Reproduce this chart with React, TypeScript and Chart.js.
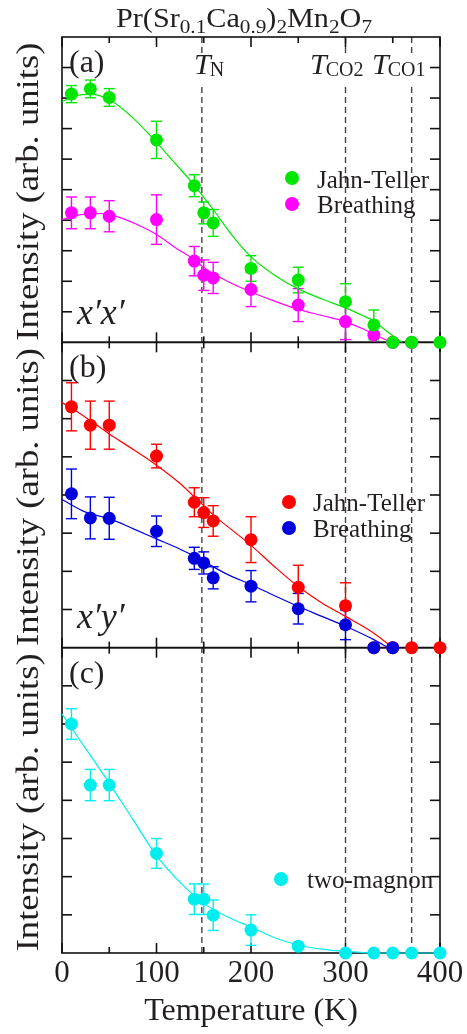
import React, { useEffect, useRef } from 'react';
import { Chart, registerables } from 'chart.js';
Chart.register(...registerables);

// ---------- data ----------
const transitionTemps = [148, 300, 370];
const xMinorTicks = [50, 150, 250, 350];

// panel (a) x'x'
const jtATemps = [10, 30, 50, 100, 140, 150, 160, 200, 250, 300, 330, 350, 370, 400];
const jtA = [8.13, 8.3, 8.02, 6.63, 5.13, 4.24, 3.91, 2.42, 2.04, 1.33, 0.57, 0, 0, 0];
const jtAErr = [0.28, 0.29, 0.29, 0.61, 0.36, 0.36, 0.44, 0.42, 0.42, 0.59, 0.49, 0, 0, 0];
const brATemps = [10, 30, 50, 100, 140, 150, 160, 200, 250, 300, 330, 350, 370];
const brA = [4.24, 4.24, 4.13, 4.02, 2.66, 2.2, 2.11, 1.73, 1.22, 0.68, 0.24, 0, 0];
const brAErr = [0.52, 0.52, 0.51, 0.81, 0.48, 0.5, 0.51, 0.56, 0.54, 0.59, 0.1, 0, 0];
const jtAFitTemps = [0, 15, 30, 50, 75, 100, 120, 140, 150, 160, 180, 200, 225, 250, 275, 300, 320, 330, 345, 360];
const jtAFit = [7.88, 8.08, 8.12, 7.95, 7.35, 6.55, 5.85, 5.15, 4.75, 4.35, 3.5, 2.8, 2.2, 1.75, 1.42, 1.13, 0.85, 0.7, 0.33, 0];
const brAFitTemps = [0, 20, 40, 60, 80, 100, 120, 140, 150, 175, 200, 225, 250, 275, 300, 320, 330, 345, 350];
const brAFit = [4.02, 4.18, 4.22, 4.1, 3.85, 3.53, 3.1, 2.71, 2.45, 2.0, 1.65, 1.35, 1.08, 0.88, 0.68, 0.42, 0.27, 0.05, 0];

// panel (b) x'y'
const jtBTemps = [10, 30, 50, 100, 140, 150, 160, 200, 250, 300, 330, 350, 370, 400];
const jtB = [6.31, 5.83, 5.83, 5.02, 3.81, 3.54, 3.32, 2.83, 1.58, 1.1, 0, 0, 0, 0];
const jtBErr = [0.63, 0.63, 0.63, 0.31, 0.38, 0.39, 0.4, 0.6, 0.58, 0.6, 0, 0, 0, 0];
const brBTemps = [10, 30, 50, 100, 140, 150, 160, 200, 250, 300, 330, 350];
const brB = [4.03, 3.4, 3.39, 3.05, 2.34, 2.22, 1.83, 1.61, 1.02, 0.6, 0, 0];
const brBErr = [0.65, 0.55, 0.55, 0.4, 0.29, 0.29, 0.29, 0.41, 0.4, 0.39, 0, 0];
const jtBFitTemps = [0, 10, 30, 50, 75, 100, 125, 140, 150, 160, 180, 200, 225, 250, 275, 300, 330, 350];
const jtBFit = [6.42, 6.28, 5.95, 5.6, 5.2, 4.78, 4.3, 3.95, 3.72, 3.48, 3.08, 2.68, 2.12, 1.6, 1.17, 0.82, 0.38, 0];
const brBFitTemps = [0, 25, 50, 75, 100, 125, 140, 150, 175, 200, 225, 250, 275, 300, 330, 345];
const brBFit = [3.88, 3.55, 3.38, 3.12, 2.85, 2.58, 2.4, 2.26, 1.92, 1.65, 1.36, 1.08, 0.82, 0.56, 0.21, 0];

// panel (c) two-magnon
const tmCTemps = [10, 30, 50, 100, 140, 150, 160, 200, 250, 300, 330, 350, 370, 400];
const tmC = [6.0, 4.4, 4.4, 2.61, 1.41, 1.41, 0.99, 0.6, 0.18, 0, 0, 0, 0, 0];
const tmCErr = [0.4, 0.41, 0.41, 0.39, 0.4, 0.4, 0.4, 0.4, 0, 0, 0, 0, 0, 0];
const tmCFitTemps = [0, 10, 30, 50, 75, 100, 125, 150, 175, 200, 225, 250, 275, 300, 330, 400];
const tmCFit = [6.26, 5.9, 5.18, 4.45, 3.5, 2.55, 1.85, 1.3, 0.95, 0.68, 0.4, 0.21, 0.1, 0.04, 0, 0];

// ---------- style ----------
const GREEN = '#00e600';
const MAGENTA = '#ff00ff';
const RED = '#ff0000';
const BLUE = '#0000dd';
const CYAN = '#00eeee';
const INK = '#231f20';
const FONT = "'Liberation Serif', 'Times New Roman', serif";

const pts = (xs: number[], ys: number[]) => xs.map((x, i) => ({ x, y: ys[i] }));

function pointSet(label: string, xs: number[], ys: number[], errs: number[], color: string, axis: string, order: number) {
  return {
    label,
    data: pts(xs, ys),
    errors: errs,
    yAxisID: axis,
    backgroundColor: color,
    borderColor: color,
    pointRadius: 6.5,
    pointBorderWidth: 0,
    showLine: false,
    clip: false,
    order,
  };
}
function fitSet(xs: number[], ys: number[], color: string, axis: string) {
  return {
    label: 'fit',
    data: pts(xs, ys),
    yAxisID: axis,
    borderColor: color,
    backgroundColor: color,
    borderWidth: 1.2,
    pointRadius: 0,
    showLine: true,
    cubicInterpolationMode: 'monotone',
    clip: false,
    order: 10,
  };
}

function seg(ctx: CanvasRenderingContext2D, x1: number, y1: number, x2: number, y2: number) {
  ctx.beginPath();
  ctx.moveTo(x1, y1);
  ctx.lineTo(x2, y2);
  ctx.stroke();
}

const decor = {
  id: 'decor',
  beforeDatasetsDraw(chart: any) {
    const { ctx, chartArea: ca, scales } = chart;
    const xs = scales.x;
    ctx.save();
    // dashed transition lines
    ctx.strokeStyle = '#444';
    ctx.lineWidth = 1.4;
    ctx.setLineDash([6, 4]);
    for (const t of transitionTemps) {
      const px = xs.getPixelForValue(t);
      seg(ctx, px, ca.top, px, ca.bottom);
    }
    ctx.setLineDash([]);
    // frames and ticks
    ctx.strokeStyle = '#111';
    ctx.lineWidth = 1.6;
    for (const id of ['ya', 'yb', 'yc']) {
      const s = scales[id];
      ctx.strokeRect(ca.left, s.top, ca.right - ca.left, s.bottom - s.top);
      for (const tk of s.ticks) {
        const py = s.getPixelForValue(tk.value);
        if (py <= s.top + 1 || py >= s.bottom - 1) continue;
        seg(ctx, ca.left, py, ca.left + 10, py);
        seg(ctx, ca.right - 10, py, ca.right, py);
      }
      for (const tk of xs.ticks) {
        const px = xs.getPixelForValue(tk.value);
        seg(ctx, px, s.top, px, s.top + 10);
        seg(ctx, px, s.bottom - 10, px, s.bottom);
      }
      for (const m of xMinorTicks) {
        const px = xs.getPixelForValue(m);
        seg(ctx, px, s.top, px, s.top + 6);
        seg(ctx, px, s.bottom - 6, px, s.bottom);
      }
    }
    // error bars
    chart.data.datasets.forEach((ds: any, i: number) => {
      if (!ds.errors) return;
      const meta = chart.getDatasetMeta(i);
      const ys = scales[ds.yAxisID];
      ctx.strokeStyle = ds.backgroundColor;
      ctx.lineWidth = 1.4;
      meta.data.forEach((pt: any, j: number) => {
        const e = ds.errors[j];
        if (!e) return;
        const v = ds.data[j].y;
        const y1 = ys.getPixelForValue(v + e);
        const y2 = ys.getPixelForValue(v - e);
        seg(ctx, pt.x, y1, pt.x, y2);
        seg(ctx, pt.x - 5.5, y1, pt.x + 5.5, y1);
        seg(ctx, pt.x - 5.5, y2, pt.x + 5.5, y2);
      });
    });
    ctx.restore();
  },
  afterDraw(chart: any) {
    const { ctx, scales } = chart;
    ctx.save();
    ctx.fillStyle = INK;
    ctx.textBaseline = 'alphabetic';
    ctx.textAlign = 'left';

    // title with subscripts
    const parts: [string, boolean][] = [
      ['Pr(Sr', false], ['0.1', true], ['Ca', false], ['0.9', true], [')', false],
      ['2', true], ['Mn', false], ['2', true], ['O', false], ['7', true],
    ];
    const mainF = `27px ${FONT}`;
    const subF = `19px ${FONT}`;
    let w = 0;
    for (const [t, s] of parts) { ctx.font = s ? subF : mainF; w += ctx.measureText(t).width; }
    const targetW = 256;
    ctx.save();
    ctx.translate(244, 27);
    ctx.scale(targetW / w, 1);
    let cx = -w / 2;
    for (const [t, s] of parts) {
      ctx.font = s ? subF : mainF;
      ctx.fillText(t, cx, s ? 6 : 0);
      cx += ctx.measureText(t).width;
    }
    ctx.restore();

    // transition labels with white background
    const tl = [
      { x: 194, sub: 'N' },
      { x: 310, sub: 'CO2' },
      { x: 372, sub: 'CO1' },
    ];
    for (const l of tl) {
      ctx.font = `italic 30px ${FONT}`;
      const tw = ctx.measureText('T').width;
      ctx.font = `20px ${FONT}`;
      const sw = ctx.measureText(l.sub).width;
      ctx.fillStyle = '#fff';
      ctx.fillRect(l.x - 2, 53, tw + sw + 2, 34);
      ctx.fillStyle = INK;
      ctx.font = `italic 30px ${FONT}`;
      ctx.fillText('T', l.x, 74);
      ctx.font = `20px ${FONT}`;
      ctx.fillText(l.sub, l.x + tw - 1, 76);
    }

    // panel letters and polarisation labels
    const panels = [
      { id: 'ya', letter: '(a)', pol: 'x\u2032x\u2032', polOff: 18 },
      { id: 'yb', letter: '(b)', pol: 'x\u2032y\u2032', polOff: 20 },
      { id: 'yc', letter: '(c)', pol: '', polOff: 0 },
    ];
    for (const p of panels) {
      const s = scales[p.id];
      ctx.font = `32px ${FONT}`;
      ctx.fillText(p.letter, 69, s.top + 35);
      if (p.pol) {
        ctx.font = `italic 36px ${FONT}`;
        ctx.fillText(p.pol, 77, s.bottom - p.polOff);
      }
      // y label
      const txt = 'Intensity (arb. units)';
      ctx.save();
      ctx.translate(38, (s.top + s.bottom) / 2 + 2);
      ctx.rotate(-Math.PI / 2);
      ctx.font = `32px ${FONT}`;
      const lw = ctx.measureText(txt).width;
      ctx.scale(298 / lw, 1);
      ctx.textAlign = 'center';
      ctx.fillText(txt, 0, 0);
      ctx.restore();
    }

    // legends
    const legends = [
      { cx: 292, cy: 178, tx: 317, ty: 188, color: GREEN, text: 'Jahn-Teller' },
      { cx: 292, cy: 204, tx: 317, ty: 213, color: MAGENTA, text: 'Breathing' },
      { cx: 289, cy: 502, tx: 313, ty: 511, color: RED, text: 'Jahn-Teller' },
      { cx: 289, cy: 528, tx: 313, ty: 537, color: BLUE, text: 'Breathing' },
      { cx: 281, cy: 879, tx: 307, ty: 888, color: CYAN, text: 'two-magnon' },
    ];
    for (const l of legends) {
      ctx.fillStyle = l.color;
      ctx.beginPath();
      ctx.arc(l.cx, l.cy, 7, 0, Math.PI * 2);
      ctx.fill();
      ctx.fillStyle = INK;
      ctx.font = `25px ${FONT}`;
      ctx.fillText(l.text, l.tx, l.ty);
    }
    ctx.restore();
  },
};

const hiddenY = (max: number) => ({
  type: 'linear',
  min: 0,
  max,
  position: 'left',
  stack: 'panels',
  stackWeight: 1,
  ticks: { display: false, stepSize: 1 },
  grid: { display: false, drawTicks: false },
  border: { display: false },
  afterFit: (s: any) => { s.width = 0; },
});

export default function App() {
  const ref = useRef<HTMLCanvasElement | null>(null);
  useEffect(() => {
    document.body.style.margin = '0';
    const canvas = ref.current!;
    const chart = new Chart(canvas, {
      type: 'scatter',
      data: {
        datasets: [
          pointSet('Jahn-Teller', jtATemps, jtA, jtAErr, GREEN, 'ya', 1),
          pointSet('Breathing', brATemps, brA, brAErr, MAGENTA, 'ya', 2),
          pointSet('Breathing', brBTemps, brB, brBErr, BLUE, 'yb', 1),
          pointSet('Jahn-Teller', jtBTemps, jtB, jtBErr, RED, 'yb', 2),
          pointSet('two-magnon', tmCTemps, tmC, tmCErr, CYAN, 'yc', 1),
          fitSet(jtAFitTemps, jtAFit, GREEN, 'ya'),
          fitSet(brAFitTemps, brAFit, MAGENTA, 'ya'),
          fitSet(jtBFitTemps, jtBFit, RED, 'yb'),
          fitSet(brBFitTemps, brBFit, BLUE, 'yb'),
          fitSet(tmCFitTemps, tmCFit, CYAN, 'yc'),
        ] as any,
      },
      options: {
        animation: false,
        responsive: false,
        devicePixelRatio: 1,
        layout: { padding: { left: 62, right: 27, top: 37, bottom: 0 } },
        plugins: { legend: { display: false }, tooltip: { enabled: false } },
        events: [],
        scales: {
          x: {
            type: 'linear',
            min: 0,
            max: 400,
            position: 'bottom',
            ticks: { stepSize: 100, padding: 2, color: INK, font: { family: FONT, size: 31 } },
            grid: { display: false, drawTicks: false },
            border: { display: false },
            title: {
              display: true,
              text: 'Temperature (K)',
              color: INK,
              font: { family: FONT, size: 32 },
              padding: { top: 0, bottom: 3 },
            },
            afterFit: (s: any) => { s.height = 81; },
          },
          yc: hiddenY(8),
          yb: hiddenY(8),
          ya: hiddenY(10),
        } as any,
      },
      plugins: [decor],
    });
    return () => chart.destroy();
  }, []);
  return <canvas ref={ref} width={467} height={1034} style={{ display: 'block' }} />;
}
